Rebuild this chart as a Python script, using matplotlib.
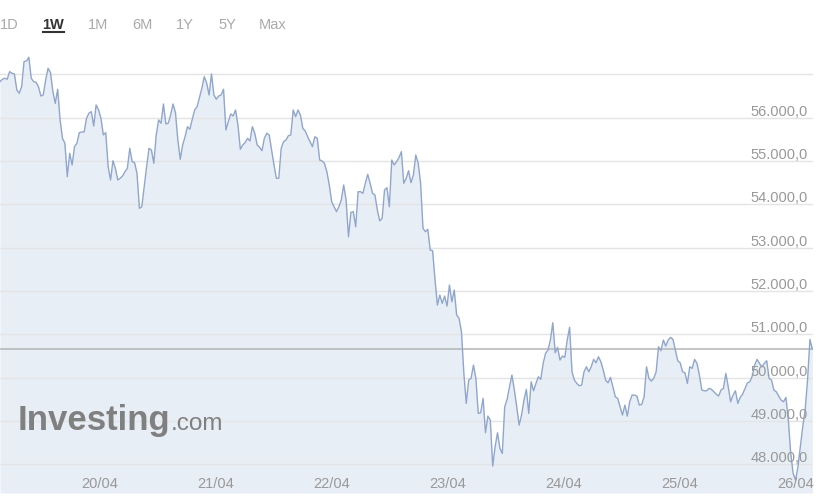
import matplotlib
matplotlib.use('Agg')
import numpy as np
import pandas as pd
import matplotlib.pyplot as plt
import matplotlib.transforms as mtransforms

plt.rcParams['font.family'] = ['Liberation Sans', 'DejaVu Sans']

# 1W price, 30 min steps
price = [
    56834, 56890, 56913, 56890, 57065, 57028, 57012, 56643, 56566, 56719,
    57296, 57312, 57398, 56913, 56834, 56820, 56719, 56504, 56527, 56873,
    57144, 57042, 56603, 56335, 56659, 55950, 55527, 55412, 54641, 55181,
    54911, 55333, 55412, 55657, 55673, 55673, 55989, 56105, 56142, 55811,
    56296, 56181, 55989, 55604, 55657, 54872, 54565, 55010, 54835, 54565,
    54604, 54657, 54756, 54835, 55296, 54987, 54964,
    54719, 53911, 53948, 54410, 54872, 55296, 55257, 54950, 55604, 55950,
    55874, 56319, 55858, 55874, 56065, 56319, 56119, 55488, 55042, 55373,
    55564, 55795, 55735, 55966, 56181, 56257, 56474, 56682, 56950, 56797,
    56527, 57012, 56527, 56428, 56504, 56527, 56659, 55719, 55911, 56088,
    56042, 56181, 55834, 55273, 55373, 55426, 55527, 55465, 55795, 55643,
    55373, 55320, 55241, 55527, 55643, 55604,
    55257, 54911, 54604, 54604, 55296, 55449, 55488, 55587, 55604, 56181,
    56026, 56181, 56065, 55758, 55696, 55564, 55449, 55333, 55564, 55527,
    55026, 55003, 54950, 54756, 54449, 54063, 53948, 53833, 53948, 54103,
    54449, 54103, 53255, 53819, 53833, 53486, 54294, 54294, 54257, 54488,
    54696, 54488, 54257, 54218, 53872, 53618, 53680, 54334, 54387, 53948,
    55026, 54911, 54987, 55079, 55218, 54488,
    54604, 54779, 54502, 54680, 55142, 54950, 54488, 53449, 53371, 53426,
    52948, 52932, 52255, 51678, 51909, 51717, 51886, 51655, 52140, 51754,
    52025, 51447, 51371, 51062, 50101, 49408, 49946, 49986, 50293, 49986,
    49178, 49191, 49524, 48730, 49115, 49023, 47961, 48406, 48730, 48369,
    48254, 49330, 49501, 49792, 50062, 49716, 49330, 48907, 49138, 49485,
    49732, 49178, 49907, 49699, 49870, 50023, 49963,
    50332, 50563, 50639, 50870, 51270, 50577, 50702, 50408, 50501, 50471,
    50870, 51163, 50138, 49946, 49870, 49815, 49831, 50138, 50254, 50138,
    50254, 50424, 50346, 50484, 50369, 50177, 49946, 49884, 50009, 49792,
    49561, 49524, 49330, 49138, 49369, 49115, 49445, 49600, 49600, 49577,
    49369, 49385, 49561, 50254, 49986, 49923, 49986, 50138, 50715, 50623,
    50870, 50732, 50870, 50932, 50886,
    50639, 50392, 50346, 50138, 50115, 49870, 50254, 50217, 50424, 50332,
    50062, 49716, 49699, 49699, 49755, 49732, 49676, 49623, 49577, 49716,
    49755, 50101, 49792, 49445, 49600, 49699, 49408, 49547, 49623, 49755,
    49884, 49907, 50039, 50293, 50424, 50332, 50254, 50332, 50392, 49986,
    49946, 49716, 49676, 49577, 49485, 49445, 49547, 49023, 48254, 47792,
    47637, 47945, 48406, 48868, 49254, 49946, 50886, 50660,
]
times = pd.date_range('2021-04-19 03:27', '2021-04-26 03:32', periods=len(price))

grid_vals = [48000, 49000, 50000, 51000, 52000, 53000, 54000, 55000, 56000, 57000]
label_vals = [48000, 49000, 50000, 51000, 52000, 53000, 54000, 55000, 56000]
date_ticks = ['2021-04-20', '2021-04-21', '2021-04-22', '2021-04-23',
              '2021-04-24', '2021-04-25', '2021-04-26']
ranges = ['1D', '1W', '1M', '6M', '1Y', '5Y', 'Max']
range_x = [9, 53, 98, 142, 185, 227, 273]

ymin, ymax = 47340, 57565

fig = plt.figure(figsize=(8.25, 5.01), dpi=100)
ax = fig.add_axes([0, 1 - 493 / 501, 813 / 825, 443 / 501])
ax.set_xlim(pd.Timestamp('2021-04-19 03:27'), pd.Timestamp('2021-04-26 03:40'))
ax.set_ylim(ymin, ymax)
for s in ax.spines.values():
    s.set_visible(False)
ax.set_xticks([])
ax.set_yticks([])

for g in grid_vals:
    ax.axhline(g, color='#e4e4e4', lw=1, zorder=1)

ax.fill_between(times, price, ymin, color='#e8eef5', lw=0, zorder=0)
ax.plot(times, price, color='#8fa6cd', lw=1.0, zorder=3)

# last price line
ax.axhline(price[-1], color='#b4b4b4', lw=1.1, zorder=2)

# y labels sit just above their grid line, inside the plot
trans_y = mtransforms.blended_transform_factory(ax.transAxes, ax.transData)
for v in label_vals:
    lab = '{:,.1f}'.format(v).replace(',', 'X').replace('.', ',').replace('X', '.')
    ax.annotate(lab, xy=(808 / 813, v), xycoords=trans_y, xytext=(0, 1.5),
                textcoords='offset points', ha='right', va='baseline',
                fontsize=10.5, color='#999999', zorder=4)

trans_x = mtransforms.blended_transform_factory(ax.transData, ax.transAxes)
for d in date_ticks:
    ts = pd.Timestamp(d)
    ax.text(ts, 9 / 443, ts.strftime('%d/%m'), transform=trans_x, ha='center',
            va='center', fontsize=10.5, color='#999999', zorder=4)

# range buttons on top
for lab, x in zip(ranges, range_x):
    if lab == '1W':
        fig.text(x / 825, 1 - 25 / 501, lab, ha='center', va='center',
                 fontsize=10.5, color='#333333', fontweight='bold')
    else:
        fig.text(x / 825, 1 - 25 / 501, lab, ha='center', va='center',
                 fontsize=10.5, color='#aaaaaa')
fig.add_artist(plt.Line2D([43 / 825, 64 / 825], [1 - 32 / 501, 1 - 32 / 501],
                          color='#333333', lw=1.5))

# watermark
fig.text(18 / 825, 1 - 430 / 501, 'Investing', fontsize=25, fontweight='bold',
         color='#808080', va='baseline', ha='left', zorder=5)
fig.text(171 / 825, 1 - 430 / 501, '.com', fontsize=17.5,
         color='#808080', va='baseline', ha='left', zorder=5)

fig.savefig('out.png', dpi=100)
